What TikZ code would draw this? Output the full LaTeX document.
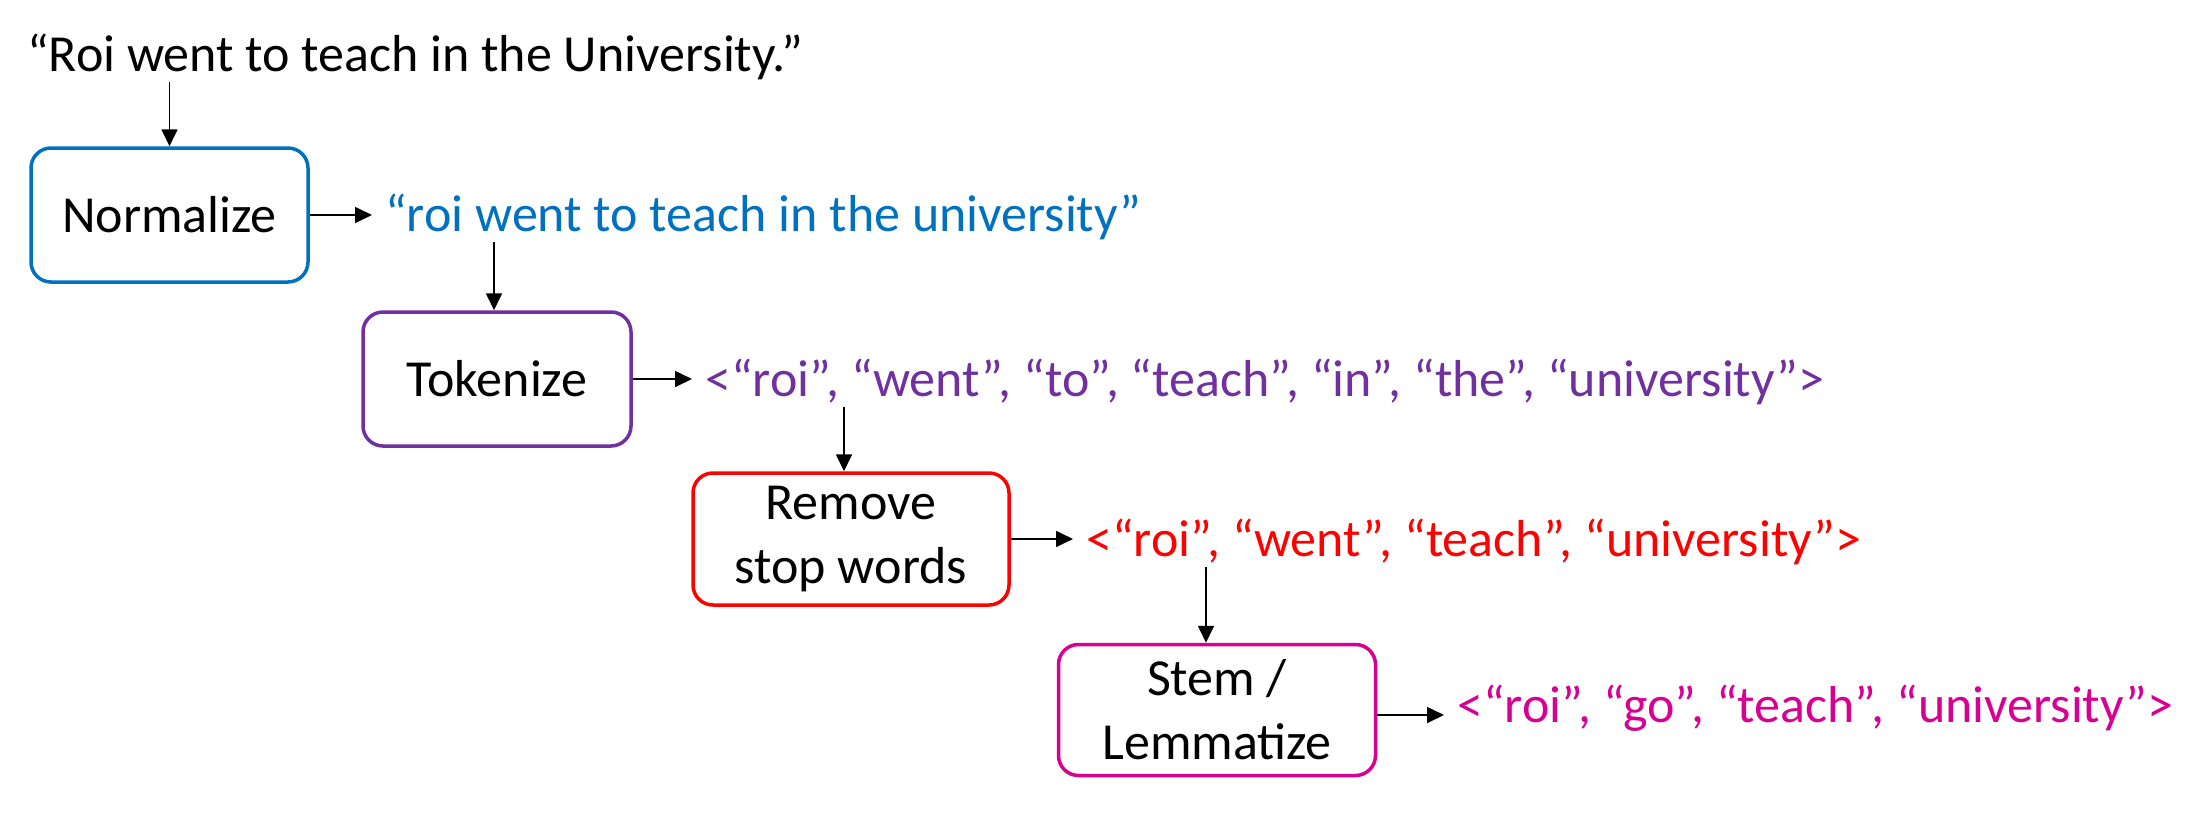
\documentclass[tikz,border=0pt]{standalone}
\usepackage{fontspec}
\setmainfont{Carlito}
\usetikzlibrary{arrows.meta}
\definecolor{cblue}{RGB}{0,112,192}
\definecolor{cpurple}{RGB}{112,48,160}
\definecolor{cred}{RGB}{255,0,0}
\definecolor{cmag}{RGB}{214,0,147}
\tikzset{
  stepbox/.style={draw, line width=3.5pt, rounded corners=20pt, align=center,
    font=\fontsize{52}{64}\selectfont, inner sep=0pt},
  txt/.style={anchor=base west, inner sep=2pt, font=\fontsize{52}{64}\selectfont},
  arr/.style={line width=1.7pt, -{Triangle[length=17pt,width=16pt]}},
  harr/.style={arr, shorten >=11pt}
}
\begin{document}
\begin{tikzpicture}[x=1pt,y=-1pt]
\useasboundingbox (0,0) rectangle (2212,812);
\node[txt] (top) at (25,71) {“Roi went to teach in the University.”};
\node[stepbox, draw=cblue, minimum width=277pt, minimum height=134pt] (norm) at (169.5,215) {Normalize};
\node[txt, text=cblue] (blue) at (383,231) {“roi went to teach in the university”};
\node[stepbox, draw=cpurple, minimum width=268pt, minimum height=134pt] (tok) at (497,379) {Tokenize};
\node[txt, text=cpurple] (purp) at (703,396) {<“roi”, “went”, “to”, “teach”, “in”, “the”, “university”>};
\node[stepbox, draw=cred, minimum width=316pt, minimum height=132pt] (rem) at (851,539) {Remove\\stop words};
\node[txt, text=cred] (red) at (1084,556) {<“roi”, “went”, “teach”, “university”>};
\node[stepbox, draw=cmag, minimum width=317pt, minimum height=131pt] (stem) at (1217,710) {Stem /\\Lemmatize};
\node[txt, text=cmag] (mag) at (1455,722) {<“roi”, “go”, “teach”, “university”>};

\draw[arr] (top.south -| norm.north) -- (norm.north);
\draw[harr] (norm.east) -- (norm.east -| blue.west);
\draw[arr] ([xshift=-3pt]blue.south -| tok.north) -- ([xshift=-3pt]tok.north);
\draw[harr] (tok.east) -- (tok.east -| purp.west);
\draw[arr] ([xshift=-7pt]purp.south -| rem.north) -- ([xshift=-7pt]rem.north);
\draw[harr] (rem.east) -- (rem.east -| red.west);
\draw[arr] ([xshift=-11pt]red.south -| stem.north) -- ([xshift=-11pt]stem.north);
\draw[harr] ([yshift=-5pt]stem.east) -- ([yshift=-5pt]stem.east -| mag.west);
\end{tikzpicture}
\end{document}
